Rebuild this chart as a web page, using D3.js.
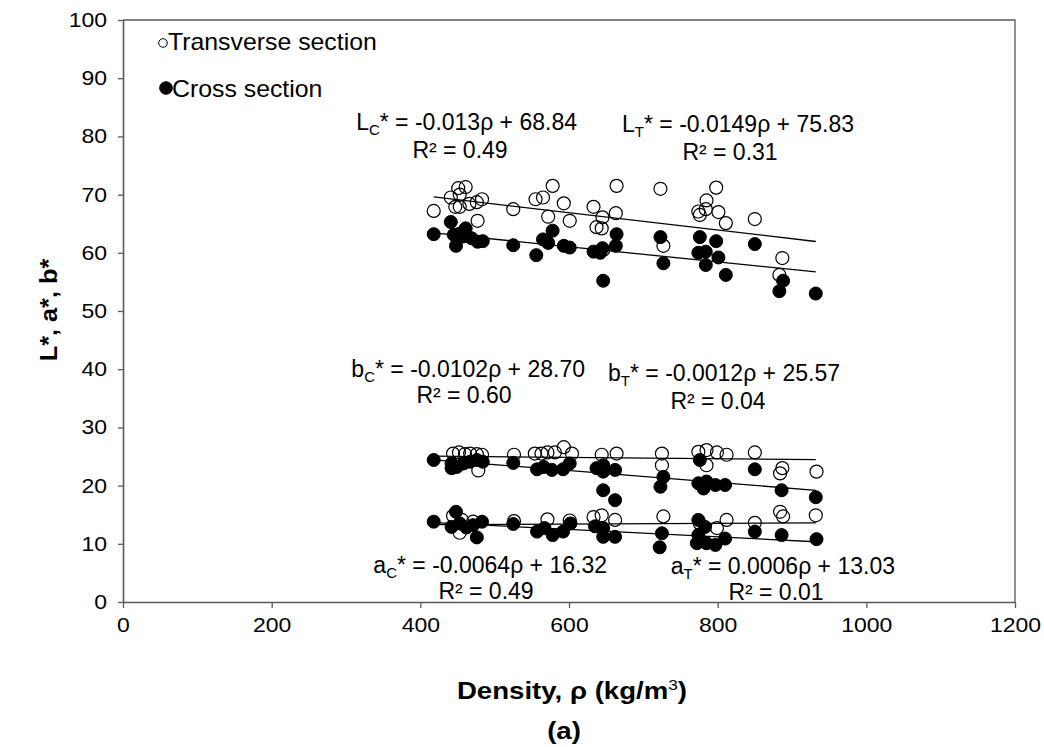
<!DOCTYPE html>
<html>
<head>
<meta charset="utf-8">
<script src="https://cdn.jsdelivr.net/npm/d3@7"></script>
<style>
    body { margin: 0; background: #fff; }
    svg text { font-family: "Liberation Sans", Arial, sans-serif; fill: #000; }
</style>
</head>
<body>
<script>
'use strict';

// Density (kg/m3) vs colour value
var lTransverse = [[418,67.2],[441,69.5],[451,71.1],[461,71.3],[453,70.0],[447,67.9],[453,67.9],[466,68.4],[476,68.7],[483,69.2],[477,65.5],[525,67.5],[555,69.2],[565,69.5],[578,71.5],[572,66.2],[593,68.5],[601,65.5],[633,67.9],[645,66.1],[637,64.4],[644,64.2],[663,66.8],[664,71.5],[723,71.0],[727,61.2],[646,60.5],[798,71.2],[785,69.0],[774,67.1],[776,66.5],[784,67.5],[801,67.0],[811,65.1],[850,65.8],[887,59.1],[883,56.2]];
var lCross = [[418,63.2],[441,65.3],[448,61.2],[445,63.1],[453,63.3],[461,64.2],[458,62.8],[469,62.5],[477,61.9],[484,62.0],[525,61.3],[556,59.6],[565,62.3],[572,61.7],[578,63.8],[593,61.2],[601,60.9],[633,60.2],[642,60.0],[645,60.8],[646,55.2],[664,63.2],[663,61.2],[723,62.7],[727,58.2],[776,62.7],[798,62.0],[774,60.0],[784,60.2],[784,57.9],[801,59.2],[811,56.2],[850,61.5],[888,55.2],[883,53.4],[932,53.0]];
var bTransverse = [[444,25.5],[452,25.7],[460,25.4],[467,25.5],[476,25.4],[483,25.3],[478,22.6],[526,25.3],[554,25.5],[563,25.5],[571,25.7],[581,25.7],[593,26.6],[604,25.5],[644,25.3],[664,25.5],[725,25.5],[725,23.5],[774,25.8],[785,26.1],[799,25.7],[812,25.3],[785,23.5],[850,25.7],[884,22.1],[887,23.0],[933,22.4]];
var bCross = [[418,24.4],[442,23.8],[449,23.2],[458,23.8],[467,24.1],[476,24.4],[484,24.1],[442,23.0],[525,23.9],[557,22.8],[566,23.2],[577,22.7],[592,22.8],[601,23.8],[637,23.0],[646,23.5],[646,22.4],[662,22.7],[646,19.2],[662,17.5],[727,21.5],[723,19.8],[776,24.4],[774,20.4],[785,20.7],[797,20.1],[810,20.1],[781,19.5],[850,22.8],[886,19.2],[932,18.0]];
var aTransverse = [[444,14.8],[456,14.1],[471,13.8],[453,11.9],[526,13.9],[571,14.2],[601,14.0],[633,14.6],[644,14.9],[662,14.1],[727,14.7],[776,13.5],[799,12.7],[812,14.1],[850,13.6],[884,15.5],[888,14.7],[932,14.9]];
var aCross = [[418,13.8],[448,15.5],[442,12.9],[453,13.5],[462,12.8],[471,13.2],[483,13.8],[476,11.1],[525,13.4],[557,12.1],[567,12.7],[578,11.5],[592,12.1],[602,13.5],[635,13.0],[646,12.7],[646,11.2],[662,11.2],[725,11.8],[722,9.4],[774,14.1],[774,11.5],[783,12.9],[785,10.1],[797,9.8],[810,10.9],[772,10.1],[850,12.1],[886,11.5],[933,10.8]];

// Linear fits printed on the figure
var fits = [
    { slope: -0.0149, icpt: 75.83 },
    { slope: -0.013, icpt: 68.84 },
    { slope: -0.0012, icpt: 25.57 },
    { slope: -0.0102, icpt: 28.70 },
    { slope: 0.0006, icpt: 13.03 },
    { slope: -0.0064, icpt: 16.32 }
];

// Equation labels (x = right edge of equation, rx = centre of R2 line)
var eqLabels = [
    { name: 'L', sub: 'C', rest: '* = -0.013\u03c1 + 68.84', r2: '0.49', x: 577, y: 130, rx: 460, ry: 158 },
    { name: 'L', sub: 'T', rest: '* = -0.0149\u03c1 + 75.83', r2: '0.31', x: 854, y: 132, rx: 730, ry: 160 },
    { name: 'b', sub: 'C', rest: '* = -0.0102\u03c1 + 28.70', r2: '0.60', x: 585, y: 377, rx: 464, ry: 403 },
    { name: 'b', sub: 'T', rest: '* = -0.0012\u03c1 + 25.57', r2: '0.04', x: 840, y: 381, rx: 718, ry: 409 },
    { name: 'a', sub: 'C', rest: '* = -0.0064\u03c1 + 16.32', r2: '0.49', x: 607, y: 573, rx: 486, ry: 599 },
    { name: 'a', sub: 'T', rest: '* = 0.0006\u03c1 + 13.03', r2: '0.01', x: 895, y: 574, rx: 776, ry: 600 }
];

var xTicks = [0, 200, 400, 600, 800, 1000, 1200];
var yTicks = [0, 10, 20, 30, 40, 50, 60, 70, 80, 90, 100];

var settings = {
    width: 1044,
    height: 747,
    left: 123,
    right: 1015,
    top: 20,
    bottom: 602,
    radius: 6.5,
    stretch: 1.15
};

var svg = d3.select('body').append('svg')
        .attr('width', settings.width)
        .attr('height', settings.height);

var x = d3.scaleLinear().domain([0, 1200]).range([settings.left, settings.right]);
var y = d3.scaleLinear().domain([0, 100]).range([settings.bottom, settings.top]);

// Frame (top and right border)
svg.append('path')
        .attr('d', 'M' + settings.left + ',' + settings.top + 'H' + settings.right + 'V' + settings.bottom)
        .attr('fill', 'none').attr('stroke', '#595959').attr('stroke-width', 1.3);

// Axes
var xAxis = svg.append('g').attr('transform', 'translate(0,' + settings.bottom + ')')
        .call(d3.axisBottom(x).tickValues(xTicks).tickFormat(d3.format('d'))
                .tickSize(6).tickSizeOuter(0).tickPadding(10));
var yAxis = svg.append('g').attr('transform', 'translate(' + settings.left + ',0)')
        .call(d3.axisLeft(y).tickValues(yTicks).tickSize(5).tickSizeOuter(0).tickPadding(14));
[xAxis, yAxis].forEach(function (g) {
    g.select('.domain').attr('stroke', '#595959').attr('stroke-width', 1.6);
    g.selectAll('.tick line').attr('stroke', '#595959').attr('stroke-width', 1.3);
    g.selectAll('.tick text').attr('font-size', '20px').attr('fill', '#222')
            .style('font-family', '"Liberation Sans", Arial, sans-serif');
});
xAxis.selectAll('.tick text').attr('dy', '0.72em').attr('transform', 'scale(' + settings.stretch + ',1)');
yAxis.selectAll('.tick text').attr('x', -16 / settings.stretch)
        .attr('transform', 'scale(' + settings.stretch + ',1)');

// Regression lines over the data range
var xMin = 418, xMax = 932;
svg.append('g').selectAll('line').data(fits).enter().append('line')
        .attr('x1', x(xMin)).attr('x2', x(xMax))
        .attr('y1', function (d) { return y(d.slope * xMin + d.icpt); })
        .attr('y2', function (d) { return y(d.slope * xMax + d.icpt); })
        .attr('stroke', '#000').attr('stroke-width', 1.3);

// Points: open (transverse) first, filled (cross) on top
function drawPoints(data, filled) {
    svg.append('g').selectAll('circle').data(data).enter().append('circle')
            .attr('cx', function (d) { return x(d[0]); })
            .attr('cy', function (d) { return y(d[1]); })
            .attr('r', settings.radius)
            .attr('fill', filled ? '#000' : 'none')
            .attr('stroke', '#000')
            .attr('stroke-width', filled ? 1 : 1.2);
}
drawPoints(lTransverse, false);
drawPoints(bTransverse, false);
drawPoints(aTransverse, false);
drawPoints(lCross, true);
drawPoints(bCross, true);
drawPoints(aCross, true);

// Equation labels
var eq = svg.append('g').selectAll('g').data(eqLabels).enter().append('g');
eq.append('text')
        .attr('x', function (d) { return d.x; })
        .attr('y', function (d) { return d.y; })
        .attr('text-anchor', 'end')
        .attr('font-size', '23px')
        .each(function (d) {
            var t = d3.select(this);
            t.append('tspan').text(d.name);
            t.append('tspan').text(d.sub).attr('font-size', '15px').attr('dy', 5);
            t.append('tspan').text(d.rest).attr('dy', -5);
        });
eq.append('text')
        .attr('x', function (d) { return d.rx; })
        .attr('y', function (d) { return d.ry; })
        .attr('text-anchor', 'middle')
        .attr('font-size', '23px')
        .text(function (d) { return 'R\u00b2 = ' + d.r2; });

// Legend
var legend = [
    { label: 'Transverse section', filled: false, cx: 163, cy: 43, r: 4.3, tx: 168, ty: 50 },
    { label: 'Cross section', filled: true, cx: 166, cy: 88, r: 6.3, tx: 172, ty: 97 }
];
var lg = svg.append('g').selectAll('g').data(legend).enter().append('g');
lg.append('circle')
        .attr('cx', function (d) { return d.cx; })
        .attr('cy', function (d) { return d.cy; })
        .attr('r', function (d) { return d.r; })
        .attr('fill', function (d) { return d.filled ? '#000' : 'none'; })
        .attr('stroke', '#000').attr('stroke-width', 1);
lg.append('text')
        .attr('transform', function (d) { return 'translate(' + d.tx + ',' + d.ty + ') scale(1.08,1)'; })
        .attr('font-size', '23px').attr('fill', '#222')
        .text(function (d) { return d.label; });

// Axis titles
svg.append('text')
        .attr('transform', 'translate(57,310) rotate(-90) scale(1.1,1)')
        .attr('text-anchor', 'middle')
        .attr('font-size', '23px').attr('font-weight', 'bold')
        .text('L*, a*, b*');

var xt = svg.append('text')
        .attr('transform', 'translate(572,699) scale(' + settings.stretch + ',1)')
        .attr('text-anchor', 'middle')
        .attr('font-size', '24px').attr('font-weight', 'bold');
xt.append('tspan').text('Density, \u03c1 (kg/m');
xt.append('tspan').text('3').attr('font-size', '15px').attr('font-weight', 'normal').attr('dy', -9);
xt.append('tspan').text(')').attr('dy', 9);

svg.append('text')
        .attr('transform', 'translate(564,739) scale(' + settings.stretch + ',1)')
        .attr('text-anchor', 'middle')
        .attr('font-size', '24px').attr('font-weight', 'bold')
        .text('(a)');
</script>
</body>
</html>
